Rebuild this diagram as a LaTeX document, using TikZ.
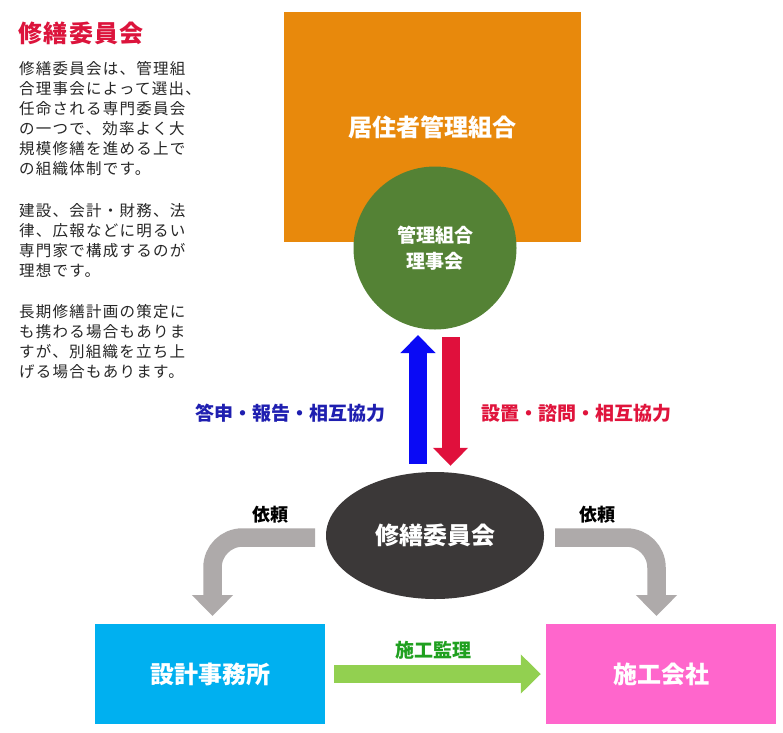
\documentclass[tikz,border=0pt]{standalone}
\usepackage{fontspec}
\setmainfont{Noto Sans CJK JP}
\newfontfamily\bodyfont[LetterSpace=8]{Noto Sans CJK JP}
\usetikzlibrary{shapes.geometric,arrows.meta}
\definecolor{orangebox}{HTML}{E8890C}
\definecolor{greencirc}{HTML}{548235}
\definecolor{bluearr}{HTML}{0A0AF5}
\definecolor{redarr}{HTML}{E0103C}
\definecolor{bluetxt}{HTML}{1F1FB0}
\definecolor{redtxt}{HTML}{E0143C}
\definecolor{darkell}{HTML}{3B3838}
\definecolor{grayarr}{HTML}{AEAAAA}
\definecolor{cyanbox}{HTML}{00B0F0}
\definecolor{pinkbox}{HTML}{FF66CC}
\definecolor{lgreen}{HTML}{92D050}
\definecolor{greentxt}{HTML}{20A020}
\definecolor{titlered}{HTML}{DC143C}
\tikzset{
  boxlabel/.style={font=\fontsize{24}{28}\selectfont\bfseries, text=white, inner sep=0pt},
  bodytxt/.style={font=\bodyfont\fontsize{15.5}{18}\selectfont, text=black!85, anchor=base west, inner sep=0pt},
  midlabel/.style={font=\fontsize{19}{22}\selectfont\bfseries, inner sep=0pt},
  blockarrow/.style={line width=18pt, -{Triangle[width=34pt,length=18pt]}},
  bentarrow/.style={line width=18.5pt, draw=grayarr, rounded corners=30pt, -{Triangle[width=40pt,length=21pt]}},
}
\begin{document}
\begin{tikzpicture}[x=1pt,y=-1pt]
\useasboundingbox (0,0) rectangle (783,732);
\fill[white] (0,0) rectangle (783,732);

% left text
\node[font=\fontsize{24}{28}\selectfont\bfseries\addfontfeature{LetterSpace=6}, text=titlered, anchor=west, inner sep=0pt] (title) at (18,33) {修繕委員会};
\foreach \t [count=\i from 0] in {修繕委員会は、管理組,合理事会によって選出、,任命される専門委員会,の一つで、効率よく大,規模修繕を進める上で,の組織体制です。}
  \node[bodytxt] (pa\i) at (19,{74+\i*20}) {\t};
\foreach \t [count=\i from 0] in {建設、会計・財務、法,律、広報などに明るい,専門家で構成するのが,理想です。}
  \node[bodytxt] (pb\i) at (19,{216+\i*20}) {\t};
\foreach \t [count=\i from 0] in {長期修繕計画の策定に,も携わる場合もありま,すが、別組織を立ち上,げる場合もあります。}
  \node[bodytxt] (pc\i) at (19,{317+\i*20}) {\t};

% top boxes
\node[rectangle, fill=orangebox, minimum width=297pt, minimum height=230pt, boxlabel] (kyoju) at (432.5,127) {居住者管理組合};
\node[circle, fill=greencirc, minimum size=163pt, inner sep=0pt, text=white, align=center,
      font=\fontsize{19}{26}\selectfont\bfseries] (riji) at (435,248) {管理組合\\理事会};

% committee ellipse
\node[ellipse, fill=darkell, minimum width=218pt, minimum height=127pt, boxlabel] (iinkai) at (435,535.5) {修繕委員会};

% bottom boxes
\node[rectangle, fill=cyanbox, minimum width=230pt, minimum height=100pt, boxlabel] (sekkei) at (210,674) {設計事務所};
\node[rectangle, fill=pinkbox, minimum width=230pt, minimum height=100pt, boxlabel] (sekou) at (661,674) {施工会社};

% vertical arrows
\draw[blockarrow, bluearr, shorten <=8pt, shorten >=7pt] ([xshift=-17pt]iinkai.north) -- ([xshift=-17pt]riji.south |- 0,328);
\draw[blockarrow, redarr, shorten <=9pt, shorten >=6pt] ([xshift=15.5pt]riji.south |- 0,328) -- ([xshift=15.5pt]iinkai.north);

\node[midlabel, text=bluetxt] (lblup) at (290,413) {答申・報告・相互協力};
\node[midlabel, text=redtxt] (lbldown) at (576,413) {設置・諮問・相互協力};

% bent gray arrows
\coordinate (gl0) at (315,537.5);
\coordinate (gl1) at (212.5,537.5);
\coordinate (gl2) at (212.5,616);
\draw[bentarrow] (gl0) -- (gl1) -- (gl2);
\coordinate (gr0) at (555,537.5);
\coordinate (gr1) at (656.5,537.5);
\coordinate (gr2) at (656.5,616);
\draw[bentarrow] (gr0) -- (gr1) -- (gr2);
\node[font=\fontsize{18}{22}\selectfont\bfseries, text=black, inner sep=0pt] (iraiL) at (270,515) {依頼};
\node[font=\fontsize{18}{22}\selectfont\bfseries, text=black, inner sep=0pt] (iraiR) at (597,515) {依頼};

% green arrow
\draw[line width=18pt, lgreen, -{Triangle[width=38pt,length=20pt]}, shorten <=9pt, shorten >=5pt] (sekkei.east |- 0,674) -- (sekou.west |- 0,674);
\node[font=\fontsize{19}{22}\selectfont\bfseries, text=greentxt, inner sep=0pt] (kanri) at (433,650) {施工監理};
\end{tikzpicture}
\end{document}
